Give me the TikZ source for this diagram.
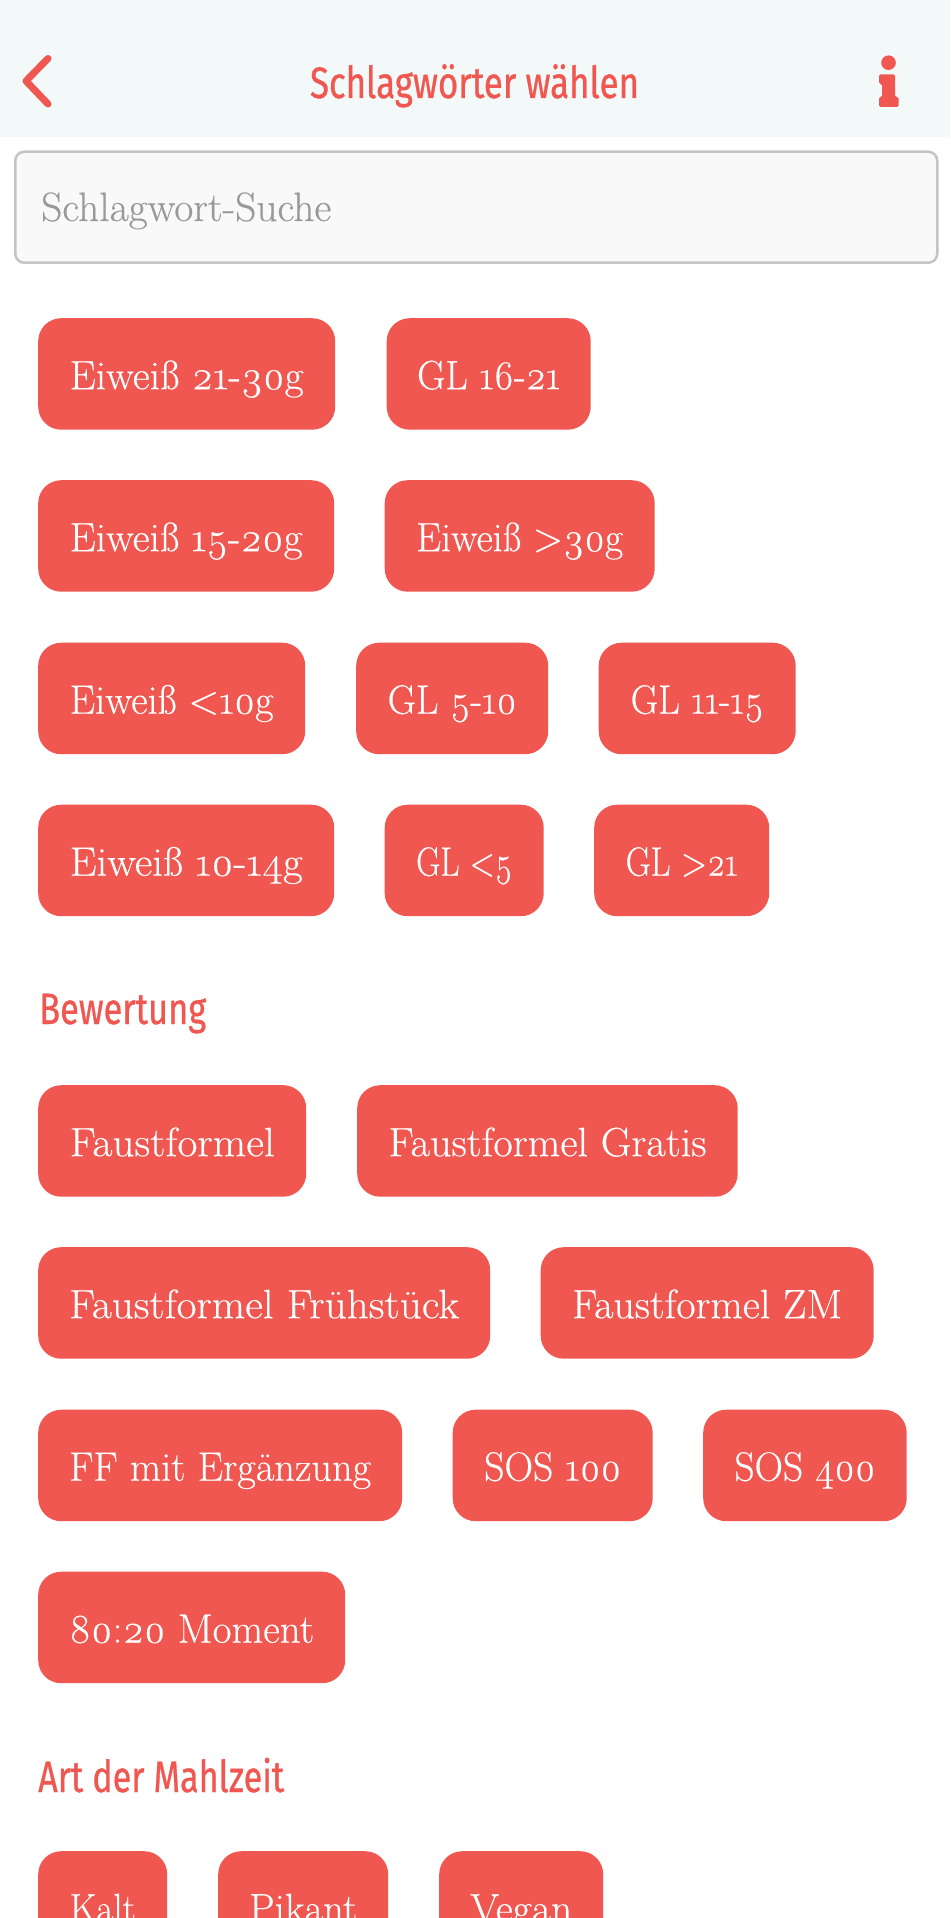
\documentclass[tikz,border=0pt]{standalone}
\usepackage{fontspec}
\setmainfont{Latin Modern Roman}[Numbers=OldStyle,FakeBold=0.35]
\newfontfamily\hdfont[FakeBold=0.8]{Fira Sans}
\definecolor{appred}{HTML}{F05751}
\definecolor{headbg}{HTML}{F3F8F8}
\definecolor{searchbg}{HTML}{F9F9F9}
\definecolor{searchln}{HTML}{C4C4C4}
\definecolor{hint}{HTML}{999999}
\tikzset{
  x=1pt,y=-1pt,
  btn/.style={anchor=north west,fill=appred,text=white,rounded corners=23pt,inner sep=0pt,
    minimum height=111.5pt,text height=71pt,text depth=40.5pt,align=center,
    font=\fontsize{41}{44}\selectfont},
  heading/.style={anchor=base west,inner sep=0pt,text=appred,font=\hdfont\fontsize{44}{48}\selectfont},
}
\newcommand{\fitw}[2]{\resizebox{#1pt}{\height}{#2}}
\newcommand{\tag}[6]{\node[btn,minimum width=#3pt] (#1) at (#2,#4) {\fitw{#6}{#5}};}
\begin{document}
\begin{tikzpicture}
\useasboundingbox (0,0) rectangle (950,1918);
\clip (0,0) rectangle (950,1918);
\fill[white] (0,0) rectangle (950,1918);
\fill[headbg] (0,0) rectangle (950,137);
\draw[appred,line width=7pt,line cap=round,line join=round] (48,58.5) -- (26,81) -- (48,104);
\fill[appred] (888.5,62.7) circle (7.3);
\fill[appred,rounded corners=1.5pt] (879,74.3) -- (895,74.3) -- (895,97) -- (898.5,97) -- (898.5,107) -- (879,107) -- (879,97) -- (882,97) -- (882,84) -- (879,84) -- cycle;
\node[anchor=base,inner sep=0pt,text=appred,font=\hdfont\fontsize{44}{48}\selectfont] (title) at (474.5,98) {\fitw{329}{Schlagwörter wählen}};
\node[anchor=north west,draw=searchln,fill=searchbg,line width=2.5pt,rounded corners=9pt,minimum width=922pt,minimum height=111pt,inner sep=0pt] (search) at (14,150.5) {};
\node[anchor=base west,inner sep=0pt,text=hint,font=\fontsize{41}{44}\selectfont] (searchtext) at (41,221) {\fitw{290}{Schlagwort-Suche}};
\tag{a1}{38}{297}{318}{Eiweiß 21-30g}{234}
\tag{a2}{386.5}{204}{318}{GL 16-21}{143}
\tag{b1}{38}{296}{480}{Eiweiß 15-20g}{233}
\tag{b2}{384.5}{270}{480}{Eiweiß >30g}{207}
\tag{c1}{38}{267}{642.5}{Eiweiß <10g}{204}
\tag{c2}{356}{192}{642.5}{GL 5-10}{129}
\tag{c3}{598.5}{197}{642.5}{GL 11-15}{133}
\tag{d1}{38}{296}{804.5}{Eiweiß 10-14g}{233}
\tag{d2}{384.5}{159}{804.5}{GL <5}{96}
\tag{d3}{594}{175}{804.5}{GL >21}{112}
\node[heading] (bew) at (39,1024) {\fitw{167}{Bewertung}};
\tag{e1}{38}{268}{1085}{Faustformel}{205}
\tag{e2}{357}{380.5}{1085}{Faustformel Gratis}{318}
\tag{f1}{38}{452}{1247}{Faustformel Frühstück}{390}
\tag{f2}{540.5}{333}{1247}{Faustformel ZM}{270}
\tag{g1}{38}{364}{1409.5}{FF mit Ergänzung}{302}
\tag{g2}{452.5}{200}{1409.5}{SOS 100}{137}
\tag{g3}{703}{203.5}{1409.5}{SOS 400}{141}
\tag{h1}{38}{307}{1571.5}{80:20 Moment}{245}
\node[heading] (art) at (38,1792) {\fitw{246}{Art der Mahlzeit}};
\tag{i1}{38}{129}{1851}{Kalt}{66}
\tag{i2}{218}{170}{1851}{Pikant}{108}
\tag{i3}{439}{164}{1851}{Vegan}{102}
\end{tikzpicture}
\end{document}
